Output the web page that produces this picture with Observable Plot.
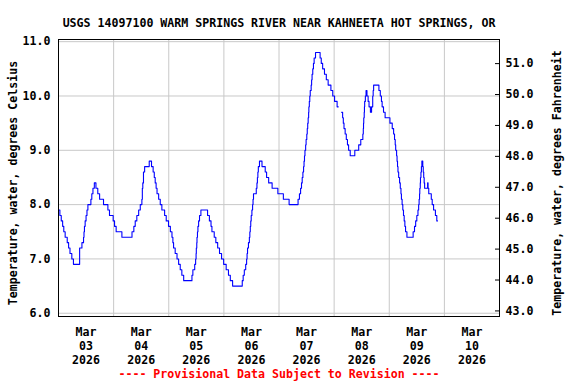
<!DOCTYPE html>
<html><head><meta charset="utf-8">
<script src="https://cdn.jsdelivr.net/npm/d3@7"></script>
<script src="https://cdn.jsdelivr.net/npm/@observablehq/plot@0.6"></script>
<style>body{margin:0;background:#fff} svg{display:block}</style>
</head><body><div id="chart"></div>
<script>
// ---- data ----
const titleText = "USGS 14097100 WARM SPRINGS RIVER NEAR KAHNEETA HOT SPRINGS, OR";
const leftLabel = "Temperature, water, degrees Celsius";
const rightLabel = "Temperature, water, degrees Fahrenheit";
const noteText = "---- Provisional Data Subject to Revision ----";
const startISO = "2026-03-03T00:00:00Z";
const endISO = "2026-03-11T00:00:00Z";
const dayNumbers = ["03","04","05","06","07","08","09","10"];
const monthLabel = "Mar";
const yearLabel = "2026";
const celsiusTicks = [6, 7, 8, 9, 10, 11];
const fahrenheitTicks = [43, 44, 45, 46, 47, 48, 49, 50, 51];
const celsiusDomain = [5.94, 11.04];
const fahrenheitDomain = [42.82, 51.78]; // right axis range aligned to the left axis in the picture

// hours after start and temperature (deg C) at each change of the stepped record (null = gap)
const hoursAfterStart = [
  0.0,0.6,1.2,1.8,2.3,2.9,3.8,4.4,5.0,5.8,6.5,9.2,10.2,10.9,11.1,11.3,11.6,12.0,12.4,12.8,14.1,14.5,15.0,15.6,16.3,17.1,17.9,19.6,21.5,22.2,23.8,24.4,25.1,27.6,
  32.0,32.8,33.4,34.1,34.9,35.6,36.3,36.5,36.7,37.0,37.5,39.5,40.5,41.2,41.7,42.1,42.5,42.9,43.6,44.3,45.0,46.2,46.9,47.9,48.7,49.4,49.8,50.1,50.8,51.6,52.3,53.0,53.7,54.5,
  58.1,58.5,59.3,59.7,59.9,60.0,60.2,60.3,60.5,60.7,61.0,61.4,62.0,64.9,65.7,66.4,66.8,67.8,68.5,69.3,70.1,71.0,71.9,73.0,74.0,74.8,75.8,
  80.0,80.4,80.9,81.5,81.9,82.1,82.3,82.7,83.1,83.3,83.5,83.7,83.9,84.2,84.5,84.7,84.9,86.1,86.4,86.6,86.8,87.0,87.5,88.6,90.0,90.6,91.5,93.0,95.5,97.9,100.4,104.3,104.9,105.4,105.8,106.1,106.4,106.7,106.9,107.1,107.3,107.6,107.8,108.1,108.3,108.5,108.7,108.9,109.0,109.2,
  109.4,109.6,110.0,110.2,110.4,110.7,111.0,111.3,111.9,113.9,114.4,115.0,115.8,116.6,117.4,118.6,119.4,120.2,121.3,121.8,121.9,
  123.2,123.7,124.0,124.3,124.8,125.3,125.8,126.3,127.0,129.0,130.7,131.6,132.5,132.7,132.8,132.9,133.1,133.2,133.3,133.6,133.9,134.3,134.8,135.2,135.8,136.3,136.8,137.0,137.2,
  139.5,140.1,140.6,140.9,141.5,142.2,144.3,145.3,145.9,146.3,146.6,146.8,147.2,147.4,147.6,147.8,148.1,148.5,148.8,149.1,149.3,149.6,149.9,150.2,150.5,150.8,151.1,151.7,
  154.4,155.0,155.5,156.0,156.5,156.8,157.0,157.2,157.3,157.5,157.6,157.8,158.0,158.2,158.6,158.8,159.0,159.2,159.4,160.7,160.9,161.2,162.3,162.7,163.3,164.1,164.7,165.0
];
const tempC = [
  7.9,7.8,7.7,7.6,7.5,7.4,7.3,7.2,7.1,7.0,6.9,7.2,7.3,7.4,7.5,7.6,7.7,7.8,7.9,8.0,8.1,8.2,8.3,8.4,8.3,8.2,8.1,8.0,7.9,7.8,7.7,7.6,7.5,7.4,
  7.5,7.6,7.7,7.8,7.9,8.0,8.1,8.3,8.4,8.6,8.7,8.8,8.7,8.6,8.5,8.4,8.3,8.2,8.1,8.0,7.9,7.8,7.7,7.6,7.5,7.4,7.3,7.2,7.1,7.0,6.9,6.8,6.7,6.6,
  6.7,6.8,6.9,7.0,7.1,7.2,7.3,7.4,7.5,7.6,7.7,7.8,7.9,7.8,7.7,7.6,7.5,7.4,7.3,7.2,7.1,7.0,6.9,6.8,6.7,6.6,6.5,
  6.6,6.7,6.8,6.9,7.0,7.1,7.2,7.3,7.4,7.5,7.6,7.7,7.8,7.9,8.0,8.1,8.2,8.3,8.4,8.5,8.6,8.7,8.8,8.7,8.6,8.5,8.4,8.3,8.2,8.1,8.0,8.1,8.2,8.3,8.4,8.5,8.6,8.7,8.8,8.9,9.0,9.1,9.2,9.3,9.4,9.5,9.6,9.7,9.8,9.9,
  10.0,10.1,10.2,10.3,10.4,10.5,10.6,10.7,10.8,10.7,10.6,10.5,10.4,10.3,10.2,10.1,10.0,9.9,9.8,9.8,null,
  9.7,9.6,9.5,9.4,9.3,9.2,9.1,9.0,8.9,9.0,9.1,9.2,9.3,9.4,9.5,9.6,9.7,9.8,9.9,10.0,10.1,10.0,9.9,9.8,9.7,9.8,10.0,10.1,10.2,
  10.1,10.0,9.9,9.8,9.7,9.6,9.5,9.4,9.3,9.2,9.1,9.0,8.9,8.8,8.7,8.6,8.5,8.4,8.3,8.2,8.1,8.0,7.9,7.8,7.7,7.6,7.5,7.4,
  7.5,7.6,7.7,7.8,7.9,8.0,8.1,8.2,8.3,8.4,8.5,8.6,8.7,8.8,8.7,8.6,8.5,8.4,8.3,8.4,8.3,8.2,8.1,8.0,7.9,7.8,7.7,7.7
];

// ---- build ----
const start = new Date(startISO), end = new Date(endISO);
const HOUR = 3600e3, DAY = 24 * HOUR;
const readings = hoursAfterStart.map((h, i) => ({time: new Date(+start + h * HOUR), value: tempC[i]}));
const dayLabels = dayNumbers.map((d, i) => ({time: new Date(+start + i * DAY + 12 * HOUR), text: `${monthLabel}\n${d}\n${yearLabel}`}));
const dayBoundaries = dayNumbers.slice(1).map((d, i) => new Date(+start + (i + 1) * DAY));
const fToC = f => celsiusDomain[0] + (f - fahrenheitDomain[0]) / (fahrenheitDomain[1] - fahrenheitDomain[0]) * (celsiusDomain[1] - celsiusDomain[0]);

const font = {fontFamily: "'DejaVu Sans Mono', monospace", fontSize: 11.6, fontWeight: "bold", fill: "#000"};
const grid = "#c8c8c8";

const chart = Plot.plot({
  width: 576, height: 384,
  marginLeft: 58, marginRight: 77, marginTop: 39, marginBottom: 68,
  x: {type: "utc", domain: [start, end], axis: null},
  y: {domain: celsiusDomain, axis: null},
  marks: [
    Plot.gridY(celsiusTicks, {stroke: grid, strokeOpacity: 1}),
    Plot.gridX(dayBoundaries, {stroke: grid, strokeOpacity: 1}),
    Plot.line(readings, {x: "time", y: "value", stroke: "#0000ff", strokeWidth: 1.1, curve: "step-after"}),
    Plot.frame({stroke: "#000"}),
    Plot.text(celsiusTicks, {y: d => d, text: d => d.toFixed(1), frameAnchor: "left", textAnchor: "end", dx: -8, ...font}),
    Plot.tickY(fahrenheitTicks, {y: fToC, insetLeft: 437, stroke: "#000"}),
    Plot.text(fahrenheitTicks, {y: fToC, text: d => d.toFixed(1), frameAnchor: "right", textAnchor: "start", dx: 6, ...font}),
    Plot.text(dayLabels, {x: "time", text: "text", frameAnchor: "bottom", lineAnchor: "top", dy: 10, lineHeight: 1.2, ...font}),
    Plot.text([titleText], {text: d => d, frameAnchor: "top", dy: -21, ...font}),
    Plot.text([leftLabel], {text: d => d, frameAnchor: "left", textAnchor: "middle", rotate: -90, dx: -45, dy: 5, ...font}),
    Plot.text([rightLabel], {text: d => d, frameAnchor: "right", textAnchor: "middle", rotate: -90, dx: 58, dy: 5, ...font}),
    Plot.text([noteText], {text: d => d, frameAnchor: "bottom", dy: 61, ...font, fill: "#ff0000"})
  ]
});
document.getElementById("chart").append(chart);
</script>
</body></html>
